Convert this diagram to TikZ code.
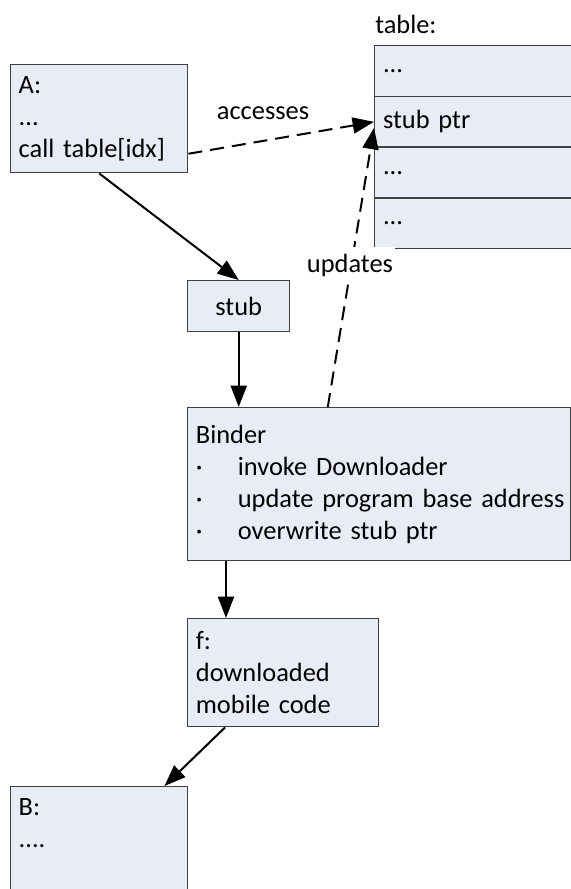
\documentclass[tikz,border=0pt]{standalone}
\usepackage{fontspec}
\setmainfont{Carlito}
\usetikzlibrary{arrows.meta,calc}

\definecolor{boxfill}{RGB}{231,236,246}
\definecolor{boxline}{RGB}{64,64,64}

\begin{document}
\begin{tikzpicture}[x=0.75pt,y=-0.75pt,
  font=\fontsize{19.8}{24}\selectfont,
  box/.style={draw=boxline, line width=1.1pt, fill=boxfill, align=left,
    inner xsep=6pt, inner ysep=0pt, anchor=north west},
  cell/.style={box, minimum width=172.5pt, minimum height=38.06pt, text width=160pt},
  arr/.style={line width=1.5pt, -{Triangle[length=16pt,width=12pt]}},
  dasharr/.style={arr, dash pattern=on 10.5pt off 6pt},
  lbl/.style={inner sep=0pt}
]
\clip (0,0) rectangle (571,889);
\fill[white] (0,0) rectangle (571,889);

% pointer table
\node[cell] (t1) at (374,45) {...};
\node[cell] (t2) at (374,95.75) {stub ptr};
\node[cell] (t3) at (374,146.5) {...};
\node[cell] (t4) at (374,197.25) {...};
\node[lbl, anchor=west] (tlabel) at (375,24) {table:};

% code blocks
\node[box, minimum width=132.75pt, minimum height=81pt, text width=120.75pt] (A) at (10,64)
  {A:\\...\\call table[idx]};
\node[box, align=center, minimum width=76.5pt, minimum height=38.25pt] (stub) at (187,280) {stub};
\node[box, minimum width=287.25pt, minimum height=114.75pt, text width=275pt] (binder) at (187,407)
  {Binder\\
   \mbox{\makebox[31.5pt][l]{·}invoke Downloader}\\
   \mbox{\makebox[31.5pt][l]{·}update program base address}\\
   \mbox{\makebox[31.5pt][l]{·}overwrite stub ptr}};
\node[box, minimum width=143.25pt, minimum height=81pt, text width=131pt] (f) at (187,618)
  {f:\\downloaded\\mobile code};
\node[box, minimum width=132.75pt, minimum height=85.5pt, text width=120.75pt] (B) at (10,786)
  {B:\\....\\\strut};

% control flow
\draw[arr] (A.south) -- (stub.north);
\draw[arr] (stub.south) -- (stub.south |- binder.north);
\draw[arr] ([xshift=29.25pt]binder.south west) -- ([xshift=29.25pt]f.north west);
\draw[arr] ([xshift=28.5pt]f.south west) -- ([xshift=-18pt]B.north east);

% table accesses
\draw[dasharr] ([yshift=-26.25pt]A.east) -- (t2.west);
\draw[dasharr] ([xshift=-38.6pt]binder.north) -- ([yshift=-4.5pt]t2.west);
\node[lbl] (acc) at (263,113) {accesses};
\node[fill=white, inner xsep=1.5pt, inner ysep=5pt] (upd) at (350,265) {updates};
\end{tikzpicture}
\end{document}
